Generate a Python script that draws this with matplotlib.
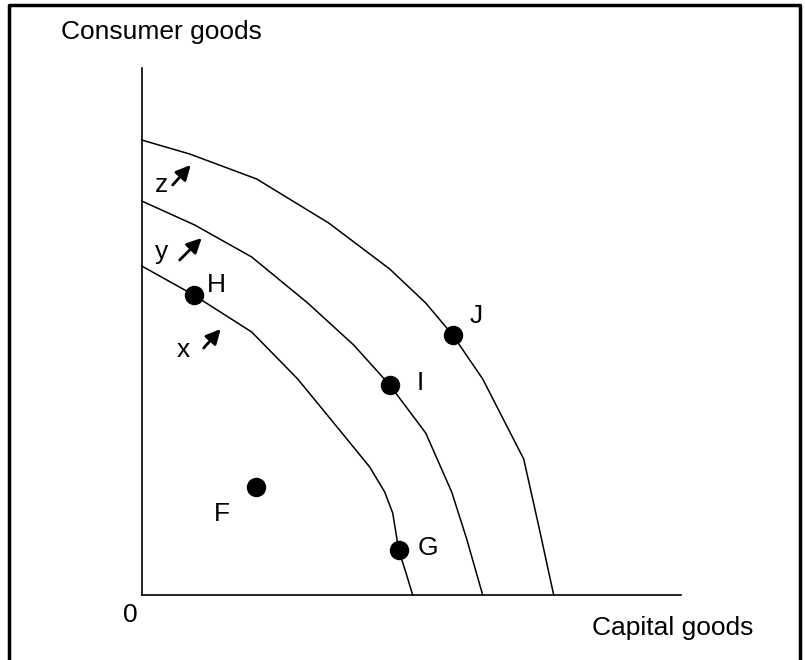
import matplotlib.pyplot as plt
from matplotlib.lines import Line2D

plt.rcParams['font.family'] = ['Liberation Sans', 'DejaVu Sans']

# production possibility frontiers
z_cap = [0, 4.8, 11.5, 18.7, 24.8, 28.4, 31.1, 34.1, 38.2, 39.7, 41.2]
z_con = [45.5, 44.1, 41.6, 37.2, 32.6, 29.2, 26.0, 21.6, 13.6, 6.9, 0]

y_cap = [0, 5.3, 11.0, 16.6, 21.2, 24.8, 28.4, 31.0, 32.5, 34.1]
y_con = [39.4, 37.0, 33.8, 29.2, 25.0, 21.0, 16.2, 10.3, 5.6, 0]

x_cap = [0, 5.2, 11.0, 15.6, 19.7, 22.8, 24.3, 25.1, 25.7, 26.4, 27.1]
x_con = [32.9, 30.0, 26.3, 21.6, 16.6, 12.8, 10.3, 8.2, 4.5, 2.3, 0]

# labelled points
pt_names = ['H', 'I', 'J', 'G', 'F']
pt_cap = [5.2, 24.8, 31.1, 25.7, 11.4]
pt_con = [30.0, 21.0, 26.0, 4.5, 10.8]
lbl_cap = [7.5, 27.9, 33.4, 28.6, 8.0]
lbl_con = [31.0, 21.2, 27.9, 4.7, 8.1]

# shift arrows (start, end) and their letters
arrow_names = ['z', 'y', 'x']
arrow_start = [(3.1, 41.0), (3.8, 33.5), (6.2, 24.7)]
arrow_end = [(4.9, 43.0), (6.0, 35.7), (7.9, 26.6)]
arrow_lbl = [(2.0, 41.0), (2.0, 34.3), (4.2, 24.5)]

W, H = 805, 660
fig = plt.figure(figsize=(W / 100, H / 100), dpi=100)
x0, y0, x1, y1 = 141.7, 595, 681, 68
ax = fig.add_axes([x0 / W, (H - y0) / H, (x1 - x0) / W, (y0 - y1) / H])
ax.set_xlim(0, (x1 - x0) / 10)
ax.set_ylim(0, (y0 - y1) / 10)
for s in ['top', 'right']:
    ax.spines[s].set_visible(False)
for s in ['left', 'bottom']:
    ax.spines[s].set_linewidth(1.2)
ax.set_xticks([])
ax.set_yticks([])

for cx, cy in [(z_cap, z_con), (y_cap, y_con), (x_cap, x_con)]:
    ax.plot(cx, cy, color='black', lw=1.1, clip_on=False, solid_joinstyle='round')

ax.plot(pt_cap, pt_con, 'o', color='black', markersize=13, clip_on=False)
for n, lx, ly in zip(pt_names, lbl_cap, lbl_con):
    ax.text(lx, ly, n, fontsize=19, ha='center', va='center')

for n, s, e, l in zip(arrow_names, arrow_start, arrow_end, arrow_lbl):
    ax.annotate('', xy=e, xytext=s,
                arrowprops=dict(arrowstyle='-|>', color='black', lw=2,
                                mutation_scale=22, shrinkA=0, shrinkB=0))
    ax.text(l[0], l[1], n, fontsize=19, ha='center', va='center')

ax.text(-1.1, -2.0, '0', fontsize=19, ha='center', va='center', clip_on=False)
fig.text(61 / W, 1 - 32 / H, 'Consumer goods', fontsize=19, ha='left', va='center')
fig.text(673 / W, 1 - 628 / H, 'Capital goods', fontsize=19, ha='center', va='center')

# frame around the picture (left, top, right)
fig.add_artist(Line2D([9 / W, 9 / W, 800 / W, 800 / W], [0, 1 - 5 / H, 1 - 5 / H, 0],
                      color='black', lw=2.5, transform=fig.transFigure))

fig.savefig('out.png', dpi=100)
